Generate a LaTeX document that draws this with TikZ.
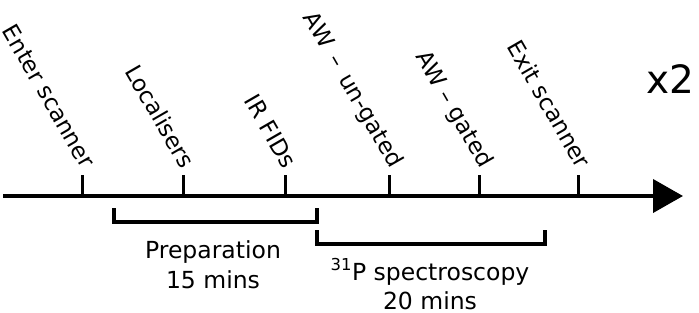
\documentclass[tikz,border=0pt]{standalone}
\usepackage{fontspec}
\setmainfont{DejaVu Sans}
\usetikzlibrary{arrows.meta}
\begin{document}
\begin{tikzpicture}[x=1pt,y=-1pt,
  axisline/.style={line width=4pt,-{Triangle[length=30pt,width=33pt]}},
  tickline/.style={line width=3pt},
  bracket/.style={line width=3.5pt},
  lab/.style={rotate=-60,anchor=east,inner sep=0pt,font=\fontsize{23}{28}\selectfont},
  txt/.style={inner sep=0pt,font=\fontsize{23.5}{28}\selectfont,anchor=base}]
\useasboundingbox (0,0) rectangle (699,313);
\coordinate (a0) at (3,196);
\coordinate (a1) at (683,196);
\draw[axisline] (a0) -- (a1);
\foreach \i/\x in {1/82,2/183,3/285,4/389,5/479,6/578}{
  \coordinate (b\i) at (\x,197);
  \coordinate (t\i) at (\x,175);
  \draw[tickline] (b\i) -- (t\i);
}
\node[lab] (l1) at (89,166) {Enter scanner};
\node[lab] (l2) at (189,166) {Localisers};
\node[lab] (l3) at (291,166) {IR FIDs};
\node[lab] (l4) at (396,166) {AW \,–\, un-gated};
\node[lab] (l5) at (486,166) {AW – gated};
\node[lab] (l6) at (585,166) {Exit scanner};
\node[inner sep=0pt,anchor=base west,font=\fontsize{39}{44}\selectfont] (x2) at (646,93) {x2};
% brackets
\coordinate (p1) at (114,208);
\coordinate (p2) at (114,222);
\coordinate (p3) at (317,222);
\coordinate (p4) at (317,208);
\draw[bracket] (p1) -- (p2) -- (p3) -- (p4);
\coordinate (s1) at (317,230);
\coordinate (s2) at (317,244);
\coordinate (s3) at (545,244);
\coordinate (s4) at (545,230);
\draw[bracket] (s1) -- (s2) -- (s3) -- (s4);
\node[txt] (prep) at (213,258) {Preparation};
\node[txt] (prept) at (213,288) {15 mins};
\node[txt] (spec) at (430,280) {\textsuperscript{31}P spectroscopy};
\node[txt] (spect) at (430,309) {20 mins};
\end{tikzpicture}
\end{document}
